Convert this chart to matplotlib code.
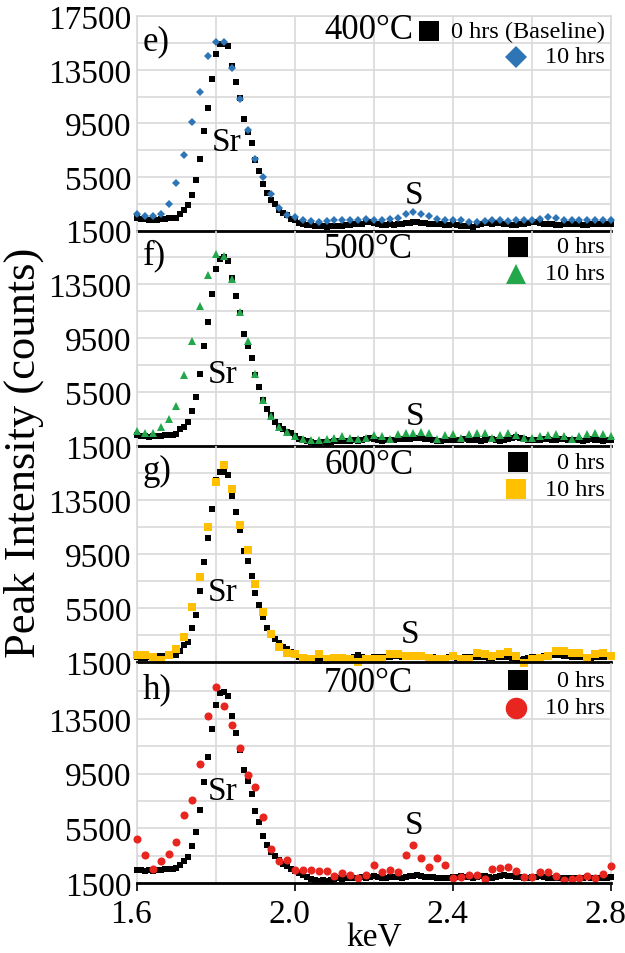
import numpy as np
import matplotlib
matplotlib.use("Agg")
import matplotlib.pyplot as plt
from matplotlib.transforms import ScaledTranslation

plt.rcParams["font.family"] = ["Liberation Serif", "DejaVu Serif"]

# energy channels: baseline scans every 0.01 keV, 10 hr scans every 0.02 keV
KEV_FINE = np.round(np.arange(1.60, 2.8001, 0.01), 2)
KEV_COARSE = np.round(np.arange(1.60, 2.8001, 0.02), 2)

# ---- e) 400 C ----
BASE_400 = [
    2450, 2375, 2375, 2300, 2250, 2300, 2325, 2375, 2425, 2425, 2425,
    2750, 3000, 3375, 4175, 5250, 6875, 8950, 10675, 12825, 14675,
    15425, 15425, 15250, 13800, 12625, 11375, 9825, 8875, 8050, 6800,
    5950, 4950, 4300, 3800, 3450, 3000, 2800, 2625, 2375, 2250,
    2050, 1950, 1900, 1900, 1850, 1800, 1800, 1750, 1800, 1800,
    1850, 1850, 1900, 1900, 1950, 1950, 2000, 2100, 2150, 2050,
    1950, 1900, 1900, 1950, 1900, 1950, 2000, 2050, 2050, 2100,
    2100, 2050, 2050, 2000, 2000, 1950, 1950, 1900, 1900, 1950,
    1900, 1850, 1850, 1800, 1750, 1900, 2000, 2050, 2050, 2000,
    2050, 2050, 2000, 1950, 1900, 1900, 1950, 2000, 2050, 2100,
    2100, 2050, 2000, 1950, 1950, 1900, 1900, 1950, 1950, 2000,
    1950, 1950, 1900, 1900, 1950, 1950, 1950, 1950, 1950, 1950,
]
HR10_400 = [
    2750, 2575, 2575, 2750, 3500, 5050, 7125, 9625, 11850, 14500,
    15550, 15550, 13675, 11325, 9000, 6825, 5500, 4250, 3175, 2675,
    2500, 2250, 2200, 2150, 2200, 2250, 2250, 2300, 2250, 2350,
    2300, 2300, 2350, 2400, 2750, 2850, 2750, 2550, 2350, 2300,
    2300, 2250, 2100, 2100, 2200, 2250, 2250, 2200, 2250, 2300,
    2300, 2350, 2500, 2400, 2300, 2300, 2250, 2300, 2250, 2300,
    2300,
]

# ---- f) 500 C ----
BASE_500 = [
    2300, 2250, 2250, 2200, 2250, 2250, 2250, 2300, 2325, 2325, 2375,
    2750, 2925, 3300, 4125, 5175, 6875, 8950, 10675, 12800, 14675,
    15375, 15500, 15250, 14000, 12625, 11375, 9800, 8950, 8000, 6750,
    5875, 4950, 4250, 3800, 3300, 3000, 2750, 2550, 2450, 2250,
    2050, 1950, 1850, 1800, 1750, 1750, 1800, 1750, 1800, 1850,
    1850, 1900, 1850, 1900, 1950, 1900, 1950, 2050, 2100, 2000,
    1950, 1900, 1950, 1950, 1950, 2000, 2000, 2050, 2050, 2100,
    2100, 2100, 2050, 2000, 1950, 1900, 1900, 1950, 1950, 1950,
    1950, 1950, 2000, 1950, 1950, 1950, 1900, 1950, 2000, 2000,
    1950, 1900, 1950, 2000, 2100, 2150, 2100, 2000, 1950, 1950,
    1950, 1950, 2000, 2000, 1950, 1950, 2000, 2000, 1950, 1950,
    1950, 1950, 1900, 1950, 2000, 1950, 1950, 1900, 1950, 1950,
]
HR10_500 = [
    2625, 2500, 2450, 2925, 3500, 4500, 6750, 9300, 11875, 14175,
    15750, 15625, 13875, 11425, 9300, 6825, 4950, 3750, 2875, 2550,
    2233, 2038, 1911, 1911, 1990, 2113, 2233, 2113, 1990, 2113,
    2285, 2233, 2038, 2360, 2435, 2485, 2530, 2485, 2038, 2285,
    2360, 2113, 2360, 2485, 2435, 2113, 2285, 2485, 2285, 2113,
    2113, 2233, 2285, 2360, 2233, 2038, 2233, 2360, 2435, 2360,
    2233,
]

# ---- g) 600 C ----
BASE_600 = [
    1875, 1825, 1800, 1875, 1875, 1950, 1950, 1950, 2000, 2050, 2050,
    2300, 2750, 3000, 4000, 5000, 6750, 8875, 10675, 12825, 15000,
    15550, 15550, 15325, 13825, 12625, 11300, 9750, 8950, 7875, 6625,
    5750, 4800, 4050, 3625, 3175, 2875, 2625, 2450, 2250, 2125,
    1900, 1800, 1700, 1650, 1600, 1600, 1650, 1600, 1650, 1700,
    1700, 1750, 1700, 1750, 1900, 2000, 1900, 1800, 1800, 1850,
    1850, 1850, 1900, 1900, 1950, 1950, 1900, 1900, 1950, 1950,
    1900, 1900, 1850, 1850, 1850, 1800, 1800, 1800, 1850, 1850,
    1800, 1800, 1850, 1900, 1900, 1850, 1850, 1850, 1800, 1800,
    1850, 1900, 1900, 1850, 1800, 1700, 1650, 1700, 1800, 1850,
    1850, 1900, 1950, 2000, 2000, 2050, 2000, 1950, 1950, 1900,
    1900, 1900, 1850, 1850, 1800, 1850, 1850, 1900, 1900, 1850,
]
HR10_600 = [
    2000, 2000, 1875, 1625, 2050, 2500, 3375, 5550, 7825, 11500,
    14800, 16125, 14300, 11625, 9825, 7300, 5175, 3575, 2625, 2200,
    2100, 1800, 1690, 2060, 1690, 1810, 1810, 1690, 1490, 1690,
    1740, 1690, 2060, 2110, 1980, 1930, 1930, 1810, 1740, 1690,
    1930, 1690, 1690, 2180, 2060, 1930, 2060, 2230, 1930, 1440,
    1690, 1810, 1980, 2350, 2300, 2180, 2130, 1810, 2060, 2180,
    1980,
]

# ---- h) 700 C ----
BASE_700 = [
    2420, 2420, 2380, 2420, 2350, 2420, 2470, 2500, 2500, 2540, 2590,
    2790, 3080, 3390, 4170, 5210, 6830, 8910, 10700, 12780, 14520,
    15370, 15440, 15130, 13680, 12470, 11210, 9760, 8960, 7990, 6780,
    5930, 4960, 4240, 3750, 3440, 3150, 2860, 2710, 2540, 2380,
    2230, 2060, 1950, 1800, 1700, 1650, 1700, 1650, 1700, 1800,
    1850, 1800, 1850, 1900, 1850, 1900, 1950, 1900, 1950, 2000,
    1950, 1900, 1900, 1950, 1950, 1950, 1900, 1950, 2000, 2000,
    2050, 2000, 1950, 1950, 1950, 1900, 1900, 1900, 1900, 1950,
    1950, 2000, 1950, 1950, 1900, 1950, 2000, 2000, 1950, 1900,
    1950, 2000, 2050, 2000, 2000, 1950, 1950, 1900, 1900, 1950,
    1950, 2000, 1950, 1900, 1900, 1850, 1850, 1900, 1900, 1850,
    1850, 1900, 1900, 1950, 1900, 1900, 1850, 1900, 1900, 1950,
]
HR10_700 = [
    4700, 3560, 2540, 3100, 3590, 4530, 6490, 7550, 10170, 13730,
    15850, 14400, 13070, 11330, 9370, 8520, 6300, 4000, 3100, 3200,
    2470, 2470, 2420, 2350, 2350, 2030, 2230, 2110, 1860, 2110,
    2790, 2280, 2420, 2280, 3510, 4290, 3320, 2640, 3320, 2780,
    1860, 1910, 2060, 2110, 1820, 2520, 2590, 2640, 2350, 1910,
    1940, 2280, 2280, 1990, 1740, 1790, 1860, 2030, 1860, 2150,
    2710,
]

LETTERS = ["e)", "f)", "g)", "h)"]
TEMPS = ["400°C", "500°C", "600°C", "700°C"]
BASE_LABELS = ["0 hrs (Baseline)", "0 hrs", "0 hrs", "0 hrs"]
HR10_LABEL = "10 hrs"
SR_POS = [(1.827, 8150), (1.818, 6900), (1.817, 6720), (1.817, 8250)]
S_POS = [(2.302, 4150), (2.304, 3750), (2.292, 3570), (2.302, 5750)]

BASES = [BASE_400, BASE_500, BASE_600, BASE_700]
TREATED = [HR10_400, HR10_500, HR10_600, HR10_700]

GRID = "#d9d9d9"
BASE_STYLE = dict(marker="s", color="black", markersize=3.8, mew=0)
TREATED_STYLES = [
    dict(marker="D", color="#2e75b6", markersize=3.8, mew=0),
    dict(marker="^", color="#22a84a", markersize=5.2, mew=0),
    dict(marker="s", color="#ffc000", markersize=6.4, mew=0),
    dict(marker="o", color="#e8251f", markersize=5.8, mew=0),
]
KEY_SIZES = [(14.5, 11.0), (14.5, 15.0), (14.5, 14.5), (14.5, 15.5)]

# panel rows in pixels (top, bottom) on a 625 x 954 canvas
W, H = 625, 954
X0, X1 = 137, 611
ROWS = [(17.3, 231.5), (231.5, 447.0), (447.0, 663.0), (665.0, 884.0)]

fig = plt.figure(figsize=(W / 100, H / 100), dpi=100)
shift_left = ScaledTranslation(-6 / 100, 0, fig.dpi_scale_trans)

axes = []
for i, (top, bot) in enumerate(ROWS):
    ax = fig.add_axes([X0 / W, 1 - bot / H, (X1 - X0) / W, (bot - top) / H])
    ax.patch.set_visible(False)
    axes.append(ax)

    ax.plot(KEV_FINE, BASES[i], linestyle="none", clip_on=False, zorder=3,
            **BASE_STYLE)
    ax.plot(KEV_COARSE, TREATED[i], linestyle="none", clip_on=False, zorder=4,
            **TREATED_STYLES[i])

    ax.set_xlim(1.6, 2.8)
    ax.set_ylim(1500, 17500)
    ax.set_xticks([1.6, 2.0, 2.4, 2.8])
    ax.set_xticks([1.8, 2.2, 2.6], minor=True)
    yt = [1500, 5500, 9500, 13500] + ([17500] if i == 0 else [])
    ax.set_yticks(yt)
    ax.set_yticks([3500, 7500, 11500, 15500], minor=True)
    ax.set_yticklabels([str(v) for v in yt], fontsize=24)
    ax.grid(True, which="both", color=GRID, linewidth=1.2, zorder=0)
    ax.set_axisbelow(True)
    ax.tick_params(axis="y", which="both", length=0, pad=4)
    ax.tick_params(axis="x", which="minor", length=0)

    for side in ("left", "right", "top"):
        ax.spines[side].set_color(GRID)
        ax.spines[side].set_linewidth(1.2)
    if i > 0:
        ax.spines["top"].set_visible(False)
    ax.spines["bottom"].set_color("black")
    ax.spines["bottom"].set_linewidth(2.0)
    ax.spines["bottom"].set_zorder(5)

    if i < 3:
        ax.tick_params(axis="x", which="major", length=0, labelbottom=False)
    else:
        ax.tick_params(axis="x", which="major", length=6, width=1.2,
                       direction="out", pad=5, labelsize=24)
        ax.set_xticklabels(["1.6", "2.0", "2.4", "2.8"])
        for lab in ax.get_xticklabels():
            lab.set_transform(lab.get_transform() + shift_left)
        ax.set_xlabel("keV", fontsize=24, labelpad=-5)

    ax.text(0.012, 0.885, LETTERS[i], transform=ax.transAxes,
            ha="left", va="center", fontsize=25)
    ax.text(0.489, 0.915 if i else 0.94, TEMPS[i], transform=ax.transAxes,
            ha="center", va="center", fontsize=25)
    ax.text(*SR_POS[i], "Sr", ha="center", va="center", fontsize=24)
    ax.text(*S_POS[i], "S", ha="center", va="center", fontsize=24)

    # key: marker left of right-aligned label
    base_x = 0.616 if i == 0 else 0.804
    ky1, ky2 = (0.93, 0.81) if i == 0 else (0.925, 0.80)
    s1, s2 = KEY_SIZES[i]
    ax.plot([base_x], [ky1], transform=ax.transAxes, linestyle="none",
            clip_on=False, marker="s", color="black", markersize=s1, mew=0)
    st = dict(TREATED_STYLES[i])
    st["markersize"] = s2
    ax.plot([0.80], [ky2], transform=ax.transAxes, linestyle="none",
            clip_on=False, **st)
    ax.text(0.987, ky1, BASE_LABELS[i], transform=ax.transAxes,
            ha="right", va="center", fontsize=17.5)
    ax.text(0.987, ky2, HR10_LABEL, transform=ax.transAxes,
            ha="right", va="center", fontsize=17.5)

fig.text(0.038, 0.525, "Peak Intensity (counts)", rotation=90,
         ha="center", va="center", fontsize=32)

fig.savefig("out.png", dpi=100, facecolor="white")
